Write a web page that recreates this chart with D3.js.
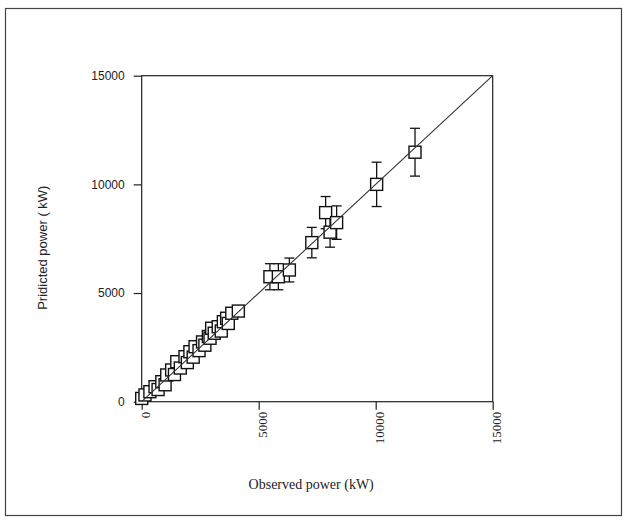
<!DOCTYPE html>
<html><head><meta charset="utf-8">
<script src="https://cdn.jsdelivr.net/npm/d3@7"></script>
<style>
html,body{margin:0;padding:0;background:#fff;}
svg{display:block;}
</style></head>
<body>
<script>
// Data (kW)
const observed  = [0, 140, 350, 570, 700, 860, 1000, 1070, 1280, 1400, 1500, 1650, 1850, 1950, 2060, 2200, 2280, 2450, 2600, 2700, 2850, 2920, 2990, 3100, 3270, 3400, 3490, 3630, 3700, 3850, 4130,
                   5480, 5840, 6310, 7270, 7860, 8050, 8330, 10040, 11680];
const predicted = [150, 310, 460, 690, 560, 920, 780, 1230, 1460, 1250, 1840, 1550, 2070, 1800, 2300, 2050, 2530, 2350, 2750, 2600, 3000, 2920, 3380, 3150, 3450, 3250, 3680, 3840, 3600, 4070, 4170,
                   5750, 5750, 6060, 7320, 8700, 7800, 8240, 10000, 11480];
const errors    = [0, 0, 0, 0, 0, 0, 0, 0, 0, 0, 0, 0, 0, 0, 0, 0, 0, 0, 0, 0, 0, 0, 0, 0, 0, 0, 0, 0, 0, 0, 0,
                   600, 600, 550, 700, 740, 690, 770, 1020, 1100];
const xTicks = [0, 5000, 10000, 15000];
const yTicks = [0, 5000, 10000, 15000];
const xLabel = "Observed power (kW)";
const yLabel = "Pridicted power ( kW)";

const W = 625, H = 521;
const svg = d3.select("body").append("svg").attr("width", W).attr("height", H);

// outer frame
svg.append("rect").attr("x", 5.5).attr("y", 8.5).attr("width", 616).attr("height", 507)
  .attr("fill", "none").attr("stroke", "#444").attr("stroke-width", 1.2);

const L = 141.7, R = 492.7, T = 75.7, B = 401.7;
const x = d3.scaleLinear().domain([0, 15000]).range([L, R]);
const y = d3.scaleLinear().domain([0, 15000]).range([B, T]);

// box
svg.append("rect").attr("x", L).attr("y", T).attr("width", R - L).attr("height", B - T)
  .attr("fill", "none").attr("stroke", "#222").attr("stroke-width", 1.2);

// x axis
const xa = svg.append("g").attr("transform", `translate(0,${B})`)
  .call(d3.axisBottom(x).tickValues(xTicks).tickSize(8).tickSizeOuter(0).tickFormat(d3.format("d")));
xa.select(".domain").remove();
xa.selectAll(".tick line").attr("stroke", "#222").attr("stroke-width", 1.2);
xa.selectAll(".tick text")
  .attr("x", -10).attr("y", 0).attr("dy", "0.35em").attr("dx", 0)
  .attr("text-anchor", "end")
  .attr("transform", "rotate(-90) translate(0,3)")
  .style("font-family", "'Liberation Serif', 'DejaVu Serif', serif")
  .style("font-size", "13px").attr("fill", "#222");

// y axis
const ya = svg.append("g").attr("transform", `translate(${L},0)`)
  .call(d3.axisLeft(y).tickValues(yTicks).tickSize(8).tickSizeOuter(0).tickFormat(d3.format("d")));
ya.select(".domain").remove();
ya.selectAll(".tick line").attr("stroke", "#222").attr("stroke-width", 1.2);
ya.selectAll(".tick text").attr("x", -17)
  .style("font-family", "'Liberation Sans', 'DejaVu Sans', sans-serif")
  .style("font-size", "12px").attr("fill", "#222");

// labels
svg.append("text").attr("x", (L + R) / 2 - 6).attr("y", 489).attr("text-anchor", "middle")
  .style("font-family", "'Liberation Serif', 'DejaVu Serif', serif").style("font-size", "14px")
  .attr("fill", "#222").text(xLabel);
svg.append("text").attr("transform", `translate(47,${(T + B) / 2 + 9}) rotate(-90)`).attr("text-anchor", "middle")
  .style("font-family", "'Liberation Sans', 'DejaVu Sans', sans-serif").style("font-size", "13px")
  .attr("fill", "#222").text(yLabel);

const data = observed.map((o, i) => ({o, p: predicted[i], e: errors[i]}));
const S = 12, capW = 10;

// error bars
const eb = svg.append("g").attr("stroke", "#111").attr("stroke-width", 1.3);
data.filter(d => d.e > 0).forEach(d => {
  const cx = x(d.o);
  eb.append("line").attr("x1", cx).attr("x2", cx).attr("y1", y(d.p + d.e)).attr("y2", y(d.p - d.e));
  eb.append("line").attr("x1", cx - capW / 2).attr("x2", cx + capW / 2).attr("y1", y(d.p + d.e)).attr("y2", y(d.p + d.e));
  eb.append("line").attr("x1", cx - capW / 2).attr("x2", cx + capW / 2).attr("y1", y(d.p - d.e)).attr("y2", y(d.p - d.e));
});

// squares
svg.append("g").selectAll("rect").data(data).join("rect")
  .attr("x", d => x(d.o) - S / 2).attr("y", d => y(d.p) - S / 2)
  .attr("width", S).attr("height", S)
  .attr("fill", "#fff").attr("stroke", "#111").attr("stroke-width", 1.4);

// diagonal y = x
svg.append("line").attr("x1", x(0)).attr("y1", y(0)).attr("x2", x(15000)).attr("y2", y(15000))
  .attr("stroke", "#333").attr("stroke-width", 1.1);
</script>
</body></html>
